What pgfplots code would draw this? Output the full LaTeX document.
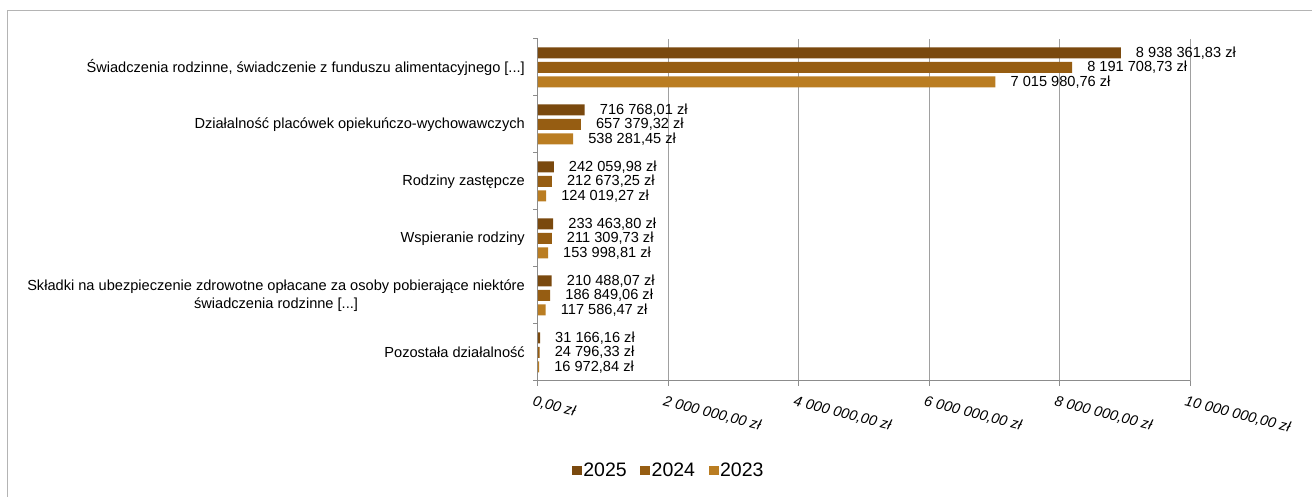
\documentclass[border=0pt]{standalone}
\usepackage{fontspec}
\setmainfont{Liberation Sans}
\usepackage{pgfplots}
\pgfplotsset{compat=1.18}
\definecolor{c25}{HTML}{7A490E}
\definecolor{c24}{HTML}{965D12}
\definecolor{c23}{HTML}{BA7D22}
\definecolor{axgray}{HTML}{8C8C8C}
\definecolor{gridgray}{HTML}{A0A0A0}
\definecolor{framegray}{HTML}{B4B4B4}
\newcommand{\ddd}{[.{}.{}.]}
\newcommand{\lab}{\fontsize{14.6}{17.5}\selectfont}
\begin{document}
\begin{tikzpicture}
\useasboundingbox (0,0) rectangle (1312pt,497pt);
\fill[white] (0,0) rectangle (1312pt,497pt);
\draw[framegray, line width=1pt] (7.5pt,0) -- (7.5pt,486.5pt) -- (1312pt,486.5pt);
\begin{axis}[
 at={(538pt,116pt)}, anchor=south west,
 scale only axis, width=652pt, height=342pt,
 xmin=0, xmax=10000000, ymin=-0.5, ymax=5.5,
 clip=false,
 xbar, bar width=11pt,
 axis x line=bottom, axis y line=left,
 axis line style={axgray, line width=1pt, -},
 xtick={0,2000000,4000000,6000000,8000000,10000000},
 xticklabels={{0,00 zł},{2 000 000,00 zł},{4 000 000,00 zł},{6 000 000,00 zł},{8 000 000,00 zł},{10 000 000,00 zł}},
 x tick label style={font=\lab\itshape, rotate=-14, anchor=north west, inner sep=0pt, yshift=-10pt, xshift=-1pt},
 ytick={0,1,2,3,4,5},
 yticklabels={{Pozostała działalność},{Składki na ubezpieczenie zdrowotne opłacane za osoby pobierające niektóre\\świadczenia rodzinne \ddd},{Wspieranie rodziny},{Rodziny zastępcze},{Działalność placówek opiekuńczo-wychowawczych},{Świadczenia rodzinne, świadczenie z funduszu alimentacyjnego \ddd}},
 y tick label style={font=\lab, align=center, anchor=east, inner sep=0pt, xshift=-8pt},
 minor ytick={-0.5,0.5,1.5,2.5,3.5,4.5,5.5},
 tick align=outside,
 major tick length=5pt, minor tick length=5pt,
 major y tick style={draw=none},
 tick style={axgray, line width=1pt},
 xmajorgrids, major x grid style={gridgray, line width=1pt},
 scaled x ticks=false,
 point meta=explicit symbolic,
 nodes near coords,
 every node near coord/.append style={font=\lab, anchor=west, inner sep=0pt, xshift=15pt},
 legend columns=3,
 legend style={at={(0.200,-0.261)}, anchor=center, draw=none, font=\fontsize{19.5}{21}\selectfont, nodes={inner sep=1.5pt}, /tikz/every even column/.append style={column sep=12pt}},
]
\addplot[fill=c25, draw=none, bar shift=14.5pt, legend image code/.code={\fill[c25] (0pt,-4.5pt) rectangle (10pt,4.5pt);}] coordinates {
 (8938361.83,5) [8 938 361,83 zł]
 (716768.01,4) [716 768,01 zł]
 (242059.98,3) [242 059,98 zł]
 (233463.80,2) [233 463,80 zł]
 (210488.07,1) [210 488,07 zł]
 (31166.16,0) [31 166,16 zł]
};
\addlegendentry{2025}
\addplot[fill=c24, draw=none, bar shift=0pt, legend image code/.code={\fill[c24] (0pt,-4.5pt) rectangle (10pt,4.5pt);}] coordinates {
 (8191708.73,5) [8 191 708,73 zł]
 (657379.32,4) [657 379,32 zł]
 (212673.25,3) [212 673,25 zł]
 (211309.73,2) [211 309,73 zł]
 (186849.06,1) [186 849,06 zł]
 (24796.33,0) [24 796,33 zł]
};
\addlegendentry{2024}
\addplot[fill=c23, draw=none, bar shift=-14.5pt, legend image code/.code={\fill[c23] (0pt,-4.5pt) rectangle (10pt,4.5pt);}] coordinates {
 (7015980.76,5) [7 015 980,76 zł]
 (538281.45,4) [538 281,45 zł]
 (124019.27,3) [124 019,27 zł]
 (153998.81,2) [153 998,81 zł]
 (117586.47,1) [117 586,47 zł]
 (16972.84,0) [16 972,84 zł]
};
\addlegendentry{2023}
\end{axis}
\end{tikzpicture}
\end{document}
